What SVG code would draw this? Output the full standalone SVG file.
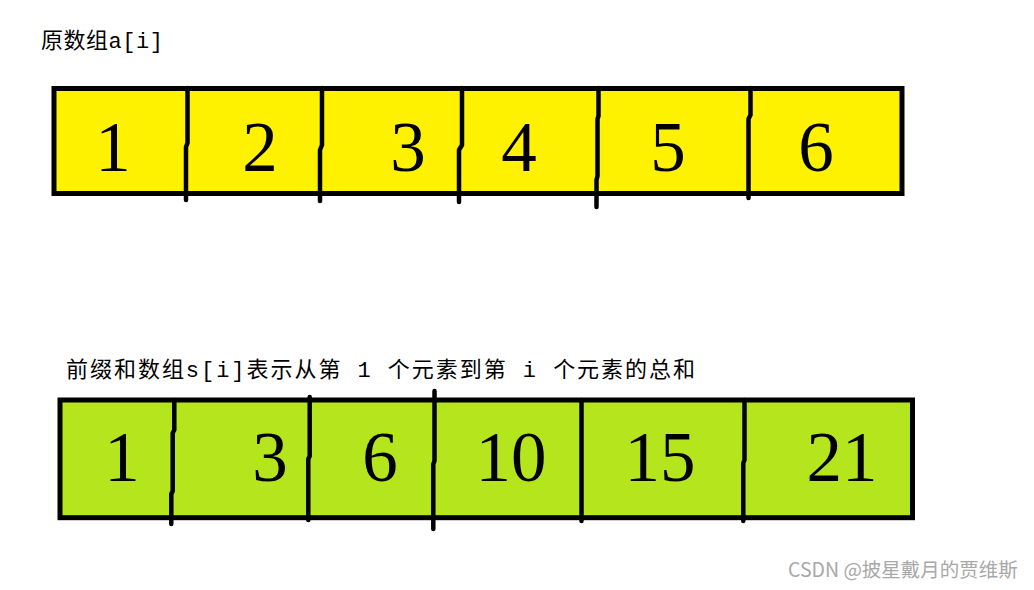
<svg xmlns="http://www.w3.org/2000/svg" width="1034" height="590" viewBox="0 0 1034 590">
<style>
.lbl{font-family:"Liberation Mono","Noto Sans CJK SC",monospace;font-size:22px;fill:#000}
.num{font-family:"Liberation Serif","DejaVu Serif",serif;font-size:71px;fill:#000;text-anchor:middle}
.box{stroke:#000;stroke-width:5}
.div{fill:none;stroke:#000;stroke-width:4.5;stroke-linecap:round;stroke-linejoin:round}
.wm{font-family:"Noto Sans CJK SC","Noto Sans",sans-serif;font-size:19.5px;fill:#a8a8a8}
</style>
<rect width="1034" height="590" fill="#fff"/>
<g id="title-a"><text class="lbl" x="41" y="48" textLength="122" lengthAdjust="spacing">原数组a[i]</text></g>
<g id="array-a">
<rect class="box" x="54" y="88.5" width="848" height="105" fill="#fff200"/>
<polyline class="div" points="187.5,88 187.5,143 186,147 186,200"/>
<polyline class="div" points="322,88 322,145 320,150 320,201"/>
<polyline class="div" points="462,88 462,145 459,150 459,202"/>
<polyline class="div" points="598.5,88 598.5,116 597.5,119 597.5,176 596.5,180 596.5,207"/>
<polyline class="div" points="750.5,88 750.5,115 748.5,119 748.5,198"/>
<g id="a1"><text class="num" x="113" y="171">1</text></g>
<g id="a2"><text class="num" x="260" y="171">2</text></g>
<g id="a3"><text class="num" x="408" y="171">3</text></g>
<g id="a4"><text class="num" x="519" y="171">4</text></g>
<g id="a5"><text class="num" x="668" y="171">5</text></g>
<g id="a6"><text class="num" x="816" y="171">6</text></g>
</g>
<g id="title-s"><text class="lbl" x="66" y="377" textLength="629" lengthAdjust="spacing">前缀和数组s[i]表示从第 1 个元素到第 i 个元素的总和</text></g>
<g id="array-s">
<rect class="box" x="60" y="400" width="852.5" height="117.7" fill="#b5e61d"/>
<polyline class="div" points="174.3,400 174.3,430 172.7,433 172.7,491 171.3,494 171.3,524"/>
<polyline class="div" points="309.7,397 309.7,456 308.3,459 308.3,520"/>
<polyline class="div" points="434.5,391 434.5,461 433.3,464 433.3,529"/>
<polyline class="div" points="581.5,400 581.5,521"/>
<polyline class="div" points="744.5,400 744.5,460 743.3,463 743.3,521"/>
<g id="s1"><text class="num" x="122" y="481">1</text></g>
<g id="s2"><text class="num" x="270" y="481">3</text></g>
<g id="s3"><text class="num" x="380" y="481">6</text></g>
<g id="s4"><text class="num" x="511" y="481">10</text></g>
<g id="s5"><text class="num" x="660" y="481">15</text></g>
<g id="s6"><text class="num" x="842" y="481">21</text></g>
</g>
<text class="wm" x="788" y="577">CSDN @披星戴月的贾维斯</text>
</svg>
